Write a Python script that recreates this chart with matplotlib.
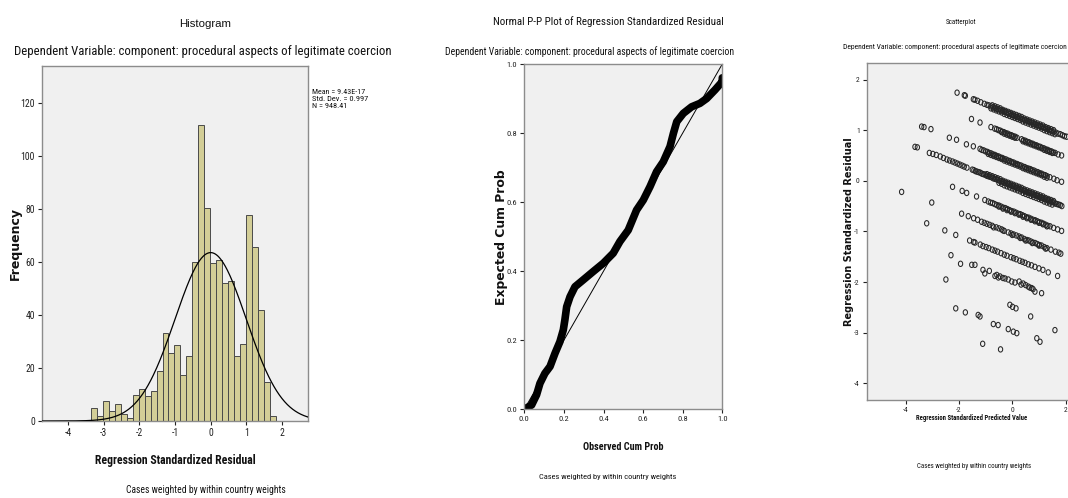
import os
import numpy as np
import matplotlib
matplotlib.use("Agg")
import matplotlib.pyplot as plt
from matplotlib import font_manager as fm
from matplotlib.font_manager import FontProperties
from matplotlib.path import Path
from matplotlib.transforms import Affine2D

# ---------------- data ----------------
hist_bin_start = -3.36
hist_bin_width = 0.1675
hist_counts = [5.0, 1.9, 7.7, 3.6, 6.3, 2.5, 1.1, 9.7, 12.1, 9.3, 11.3, 19.0, 33.2,
               25.8, 28.5, 17.2, 24.5, 59.9, 111.7, 80.3, 59.7, 60.9, 52.1, 52.8,
               24.5, 29.1, 77.9, 65.6, 41.8, 14.7, 2.0]
hist_mean = 9.43e-17
hist_sd = 0.997
hist_n = 948.41
hist_xticks = [-4, -3, -2, -1, 0, 1, 2]
hist_yticks = [0, 20, 40, 60, 80, 100, 120]

pp_observed = [0.0, 0.037, 0.062, 0.079, 0.104, 0.13, 0.155, 0.18, 0.197, 0.205, 0.214,
               0.231, 0.256, 0.298, 0.348, 0.399, 0.449, 0.483, 0.525, 0.567, 0.601,
               0.635, 0.668, 0.702, 0.736, 0.753, 0.77, 0.803, 0.845, 0.887, 0.921,
               0.963, 1.0, 1.0]
pp_expected = [0.0, 0.0125, 0.042, 0.075, 0.104, 0.124, 0.162, 0.196, 0.23, 0.259, 0.297,
               0.326, 0.355, 0.375, 0.399, 0.423, 0.452, 0.486, 0.519, 0.577, 0.606,
               0.645, 0.688, 0.717, 0.761, 0.799, 0.833, 0.857, 0.876, 0.886, 0.9,
               0.925, 0.949, 0.96]
pp_ticks = [0.0, 0.2, 0.4, 0.6, 0.8, 1.0]

# scatter: standardized predicted value (x) vs standardized residual (y), by band
band_a_x = [-2.07, -1.80, -1.76, -1.46, -1.40, -1.30, -1.18, -1.05, -0.95, -0.88, -0.80, -0.72,
            -0.65, -0.58, -0.50, -0.43, -0.36, -0.29, -0.22, -0.15, -0.08, -0.02, 0.05, 0.12,
            0.18, 0.25, 0.32, 0.38, 0.45, 0.52, 0.58, 0.65, 0.72, 0.78, 0.85, 0.92, 0.98,
            1.05, 1.12, 1.18, 1.25, 1.32, 1.40, 1.48, 1.56, 1.64, 1.72, 1.80, 1.88, 1.96, 2.04,
            -0.8, -0.7, -0.6, -0.5, -0.4, -0.3, -0.2, -0.1, 0.0, 0.1, 0.2, 0.3, 0.4, 0.5,
            0.6, 0.7, 0.8, 0.9, 1.0, 1.1, 1.2, 1.3, 1.4, 1.5, 1.6,
            -0.75, -0.65, -0.55, -0.45, -0.35, -0.25, -0.15, -0.05, 0.05, 0.15, 0.25, 0.35,
            0.45, 0.55, 0.65, 0.75, 0.85, 0.95, 1.05, 1.15, 1.25, 1.35, 1.45, 1.55]
band_a_y = [1.74, 1.69, 1.68, 1.61, 1.60, 1.58, 1.55, 1.52, 1.50, 1.49, 1.47, 1.45,
            1.44, 1.42, 1.41, 1.39, 1.38, 1.36, 1.35, 1.33, 1.32, 1.30, 1.29, 1.27,
            1.26, 1.25, 1.23, 1.22, 1.20, 1.19, 1.18, 1.16, 1.15, 1.13, 1.12, 1.10, 1.09,
            1.08, 1.06, 1.05, 1.03, 1.02, 1.00, 0.98, 0.97, 0.95, 0.93, 0.92, 0.90, 0.88, 0.87,
            1.43, 1.41, 1.39, 1.37, 1.35, 1.32, 1.30, 1.28, 1.26, 1.24, 1.22, 1.20, 1.17, 1.15,
            1.13, 1.11, 1.09, 1.07, 1.05, 1.03, 1.00, 0.98, 0.96, 0.94, 0.92,
            1.49, 1.47, 1.45, 1.43, 1.40, 1.38, 1.36, 1.34, 1.32, 1.30, 1.28, 1.26,
            1.23, 1.21, 1.19, 1.17, 1.15, 1.13, 1.11, 1.09, 1.06, 1.04, 1.02, 1.00]

band_b_x = [-1.53, -1.21, -0.80, -0.66, -0.59, -0.52, -0.45, -0.38, -0.31, -0.24, -0.17, -0.10,
            -0.03, 0.04, 0.11, 0.18, 0.35, 0.42, 0.49, 0.56, 0.63, 0.70, 0.77, 0.84, 0.91,
            0.98, 1.05, 1.12, 1.19, 1.26, 1.33, 1.40, 1.47, 1.54, 1.61, 1.72, 1.85,
            -0.4, -0.3, -0.2, -0.1, 0.0, 0.1, 0.4, 0.5, 0.6, 0.7, 0.8, 0.9, 1.0, 1.1, 1.2,
            1.3, 1.4, 1.5]
band_b_y = [1.22, 1.15, 1.06, 1.03, 1.02, 1.00, 0.99, 0.97, 0.96, 0.94, 0.93, 0.91,
            0.90, 0.88, 0.87, 0.85, 0.82, 0.80, 0.79, 0.77, 0.76, 0.74, 0.73, 0.71, 0.70,
            0.68, 0.67, 0.65, 0.64, 0.62, 0.61, 0.59, 0.58, 0.56, 0.55, 0.52, 0.50,
            0.96, 0.93, 0.91, 0.89, 0.87, 0.85, 0.78, 0.76, 0.74, 0.72, 0.70, 0.68, 0.66, 0.64, 0.61,
            0.59, 0.57, 0.55]

band_c_x = [-3.40, -3.31, -3.05, -2.36, -2.09, -1.72, -1.46, -1.21, -1.14, -1.07, -1.00, -0.93,
            -0.86, -0.79, -0.72, -0.65, -0.58, -0.51, -0.44, -0.37, -0.30, -0.23, -0.16,
            -0.09, -0.02, 0.05, 0.12, 0.19, 0.26, 0.33, 0.40, 0.47, 0.54, 0.61, 0.68, 0.75,
            0.82, 0.89, 0.96, 1.03, 1.10, 1.17, 1.24, 1.31, 1.41, 1.56, 1.68, 1.85,
            -0.9, -0.8, -0.7, -0.6, -0.5, -0.4, -0.3, -0.2, -0.1, 0.0, 0.1, 0.2, 0.3, 0.4,
            0.5, 0.6, 0.7, 0.8, 0.9, 1.0, 1.1, 1.2, 1.3]
band_c_y = [1.07, 1.06, 1.02, 0.85, 0.81, 0.72, 0.68, 0.63, 0.61, 0.60, 0.58, 0.57,
            0.55, 0.54, 0.52, 0.51, 0.49, 0.48, 0.46, 0.45, 0.43, 0.42, 0.40,
            0.39, 0.37, 0.36, 0.34, 0.33, 0.31, 0.30, 0.28, 0.27, 0.25, 0.24, 0.23, 0.21,
            0.20, 0.18, 0.17, 0.15, 0.14, 0.12, 0.11, 0.09, 0.07, 0.04, 0.01, -0.02,
            0.53, 0.51, 0.49, 0.47, 0.45, 0.43, 0.40, 0.38, 0.36, 0.34, 0.32, 0.30, 0.28, 0.25,
            0.23, 0.21, 0.19, 0.17, 0.15, 0.13, 0.11, 0.08, 0.06]

band_d_x = [-3.65, -3.56, -3.11, -2.98, -2.85, -2.70, -2.58, -2.45, -2.35, -2.24, -2.15, -2.06,
            -1.97, -1.88, -1.80, -1.70, -1.50, -1.44, -1.38, -1.32, -1.26, -1.20, -1.14,
            -1.08, -1.02, -0.96, -0.90, -0.84, -0.78, -0.72, -0.66, -0.60, -0.54, -0.48,
            -0.42, -0.36, -0.30, -0.24, -0.18, -0.12, -0.06, 0.00, 0.06, 0.12, 0.18, 0.24,
            0.30, 0.36, 0.42, 0.48, 0.54, 0.60, 0.66, 0.72, 0.78, 0.84, 0.90, 0.96, 1.02,
            1.08, 1.14, 1.20, 1.26, 1.32, 1.38, 1.44, 1.50, 1.56, 1.62, 1.68, 1.74, 1.80, 1.86,
            -0.5, -0.4, -0.3, -0.2, -0.1, 0.0, 0.1, 0.2, 0.3, 0.4, 0.5, 0.6, 0.7, 0.8, 0.9,
            1.0, 1.1, 1.2, 1.3, 1.4, 1.5,
            -0.95, -0.85, -0.75, -0.65, -0.55, -0.45, -0.35, -0.25, -0.15, -0.05, 0.05, 0.15,
            0.25, 0.35, 0.45, 0.55, 0.65, 0.75, 0.85, 0.95, 1.05, 1.15, 1.25, 1.35, 1.45, 1.55]
band_d_y = [0.67, 0.66, 0.55, 0.53, 0.51, 0.48, 0.45, 0.42, 0.40, 0.38, 0.36, 0.34,
            0.32, 0.30, 0.28, 0.26, 0.22, 0.21, 0.19, 0.18, 0.17, 0.16, 0.14,
            0.13, 0.12, 0.10, 0.09, 0.08, 0.07, 0.05, 0.04, 0.03, 0.02, 0.00,
            -0.01, -0.02, -0.04, -0.05, -0.06, -0.07, -0.09, -0.10, -0.11, -0.13, -0.14, -0.15,
            -0.16, -0.18, -0.19, -0.20, -0.22, -0.23, -0.24, -0.25, -0.27, -0.28, -0.29, -0.30, -0.32,
            -0.33, -0.34, -0.36, -0.37, -0.38, -0.39, -0.41, -0.42, -0.43, -0.45, -0.46, -0.47, -0.48, -0.50,
            -0.04, -0.06, -0.09, -0.11, -0.13, -0.15, -0.17, -0.19, -0.21, -0.24, -0.26, -0.28, -0.30,
            -0.32, -0.34, -0.36, -0.38, -0.41, -0.43, -0.45, -0.47,
            0.13, 0.11, 0.09, 0.07, 0.05, 0.03, 0.00, -0.02, -0.04, -0.06, -0.08, -0.10,
            -0.12, -0.14, -0.17, -0.19, -0.21, -0.23, -0.25, -0.27, -0.29, -0.31, -0.34, -0.36, -0.38, -0.40]

band_e_x = [-2.24, -1.88, -1.71, -1.34, -1.03, -0.90, -0.82, -0.74, -0.66, -0.58, -0.50, -0.42,
            -0.34, -0.26, -0.18, -0.10, -0.02, 0.06, 0.14, 0.22, 0.30, 0.38, 0.46, 0.54,
            0.62, 0.70, 0.78, 0.86, 0.94, 1.02, 1.10, 1.18, 1.26, 1.34, 1.42, 1.55, 1.70, 1.85,
            -0.5, -0.35, -0.2, -0.05, 0.1, 0.25, 0.4, 0.55, 0.7, 0.85, 1.0, 1.15, 1.3]
band_e_y = [-0.12, -0.20, -0.24, -0.31, -0.38, -0.41, -0.43, -0.44, -0.46, -0.48, -0.49, -0.51,
            -0.53, -0.54, -0.56, -0.58, -0.60, -0.61, -0.63, -0.65, -0.66, -0.68, -0.70, -0.72,
            -0.73, -0.75, -0.77, -0.78, -0.80, -0.82, -0.83, -0.85, -0.87, -0.89, -0.90, -0.93, -0.96, -0.99,
            -0.51, -0.55, -0.58, -0.61, -0.64, -0.67, -0.71, -0.74, -0.77, -0.80, -0.83, -0.86, -0.90]

band_f_x = [-4.15, -3.02, -1.90, -1.65, -1.45, -1.30, -1.15, -1.05, -0.95, -0.85, -0.75, -0.60,
            -0.50, -0.40, -0.30, -0.15, -0.05, 0.05, 0.15, 0.25, 0.35, 0.45, 0.55, 0.62,
            0.70, 0.78, 0.86, 0.94, 1.02, 1.10, 1.20, 1.30, 1.45, 1.62, 1.75, 1.82,
            -0.7, -0.35, 0.0, 0.3, 0.5, 0.75, 1.0, 1.25]
band_f_y = [-0.22, -0.43, -0.65, -0.70, -0.74, -0.77, -0.81, -0.83, -0.85, -0.87, -0.89, -0.92,
            -0.94, -0.96, -0.99, -1.02, -1.04, -1.06, -1.08, -1.10, -1.12, -1.15, -1.17, -1.18,
            -1.20, -1.22, -1.23, -1.25, -1.27, -1.28, -1.31, -1.33, -1.36, -1.40, -1.42, -1.44,
            -0.92, -0.98, -1.07, -1.13, -1.18, -1.23, -1.28, -1.34]

band_g_x = [-3.21, -2.53, -2.12, -1.60, -1.45, -1.40, -1.20, -1.10, -0.98, -0.88, -0.75, -0.65,
            -0.55, -0.42, -0.30, -0.20, -0.05, 0.05, 0.15, 0.28, 0.38, 0.48, 0.60, 0.72,
            0.85, 1.00, 1.15, 1.35, 1.70]
band_g_y = [-0.84, -0.98, -1.07, -1.18, -1.21, -1.22, -1.26, -1.29, -1.31, -1.33, -1.36, -1.38,
            -1.40, -1.43, -1.46, -1.48, -1.51, -1.53, -1.55, -1.58, -1.60, -1.62, -1.65, -1.67,
            -1.70, -1.73, -1.76, -1.81, -1.88]

band_h_x = [-2.30, -1.94, -1.52, -1.40, -1.10, -1.03, -0.86, -0.65, -0.58, -0.52, -0.46, -0.35,
            -0.27, -0.15, -0.02, 0.10, 0.26, 0.33, 0.41, 0.50, 0.60, 0.66, 0.73, 0.78, 0.85, 1.10]
band_h_y = [-1.47, -1.64, -1.66, -1.66, -1.76, -1.83, -1.78, -1.88, -1.86, -1.91, -1.89, -1.92,
            -1.93, -1.95, -1.99, -2.01, -1.99, -2.05, -2.03, -2.06, -2.09, -2.11, -2.12, -2.14, -2.19, -2.22]

band_i_x = [-2.49, -0.09, 0.01, 0.14, 0.69, 1.60]
band_i_y = [-1.95, -2.45, -2.49, -2.52, -2.68, -2.95]

band_j_x = [-2.12, -1.76, -1.28, -1.21, -0.71, -0.53, -0.15, 0.04, 0.17, 0.92, 1.04]
band_j_y = [-2.52, -2.60, -2.65, -2.68, -2.83, -2.85, -2.93, -2.98, -3.01, -3.11, -3.18]

band_k_x = [-1.11, -0.44]
band_k_y = [-3.22, -3.33]

sc_xticks = [-4, -2, 0, 2]
sc_yticks = [-4, -3, -2, -1, 0, 1, 2]

title_dep = "Dependent Variable: component: procedural aspects of legitimate coercion"
note_weights = "Cases weighted by within country weights"


# ---------------- fonts ----------------
def pick_narrow(bold):
    want = 700 if bold else 400
    best, best_score = None, None
    for f in fm.fontManager.ttflist:
        fn = os.path.basename(f.fname).lower()
        if f.style != "normal" or "italic" in fn or "oblique" in fn:
            continue
        narrow = ("narrow" in fn or "condensed" in fn or
                  f.stretch in ("condensed", "semi-condensed", "extra-condensed"))
        if not narrow:
            continue
        try:
            w = int(f.weight)
        except (TypeError, ValueError):
            w = 700 if "bold" in str(f.weight) else 400
        score = abs(w - want)
        if "semi" in fn or "extra" in fn or "ultra" in fn:
            score += 50
        if "liberation" in fn:
            score -= 30
        elif "roboto" in fn:
            score -= 20
        elif "dejavu" in fn:
            score -= 10
        if best_score is None or score < best_score:
            best, best_score = f.fname, score
    if best is None:
        return FontProperties(family=["Liberation Sans", "DejaVu Sans"],
                              weight="bold" if bold else "normal")
    return FontProperties(fname=best)


FP_N = pick_narrow(False)
FP_NB = pick_narrow(True)
FP_WB = FontProperties(family=["DejaVu Sans"], weight="bold")
FP_R = FontProperties(family=["Liberation Sans", "DejaVu Sans"])

# ---------------- styling ----------------
W, H = 1068, 498
BG = "#f0f0f0"
SPINE = "#8c8c8c"
BAR = "#d3ce97"

fig = plt.figure(figsize=(W / 100, H / 100), dpi=100)
fig.patch.set_facecolor("white")
renderer = fig.canvas.get_renderer()


def ax_rect(l, r, t, b):
    return [l / W, 1 - b / H, (r - l) / W, (b - t) / H]


def ftext(x, y, s, fp, target, rotation=0, ha="center", maxsize=None):
    t = fig.text(x / W, 1 - y / H, s, fontproperties=fp, fontsize=10, rotation=rotation,
                 ha=ha, va="center", color="#111111")
    bb = t.get_window_extent(renderer)
    cur = bb.height if rotation == 90 else bb.width
    size = 10 * target / cur
    if maxsize is not None:
        size = min(size, maxsize)
    t.set_fontsize(size)
    return t


def style_axes(ax, fs):
    ax.set_facecolor(BG)
    for sp in ax.spines.values():
        sp.set_color(SPINE)
        sp.set_linewidth(1.0)
    ax.tick_params(axis="both", which="both", direction="out", length=3, width=0.8,
                   color="#222222", labelsize=fs, pad=2, top=False, right=False,
                   labelcolor="#222222")
    for lab in ax.get_xticklabels() + ax.get_yticklabels():
        lab.set_fontproperties(FP_N)
        lab.set_fontsize(fs)


# ---------------- histogram ----------------
ax1 = fig.add_axes(ax_rect(42, 308, 66, 421))
edges = hist_bin_start + hist_bin_width * np.arange(len(hist_counts) + 1)
ax1.bar(edges[:-1], hist_counts, width=hist_bin_width, align="edge", color=BAR,
        edgecolor="#4a4a4a", linewidth=0.7, zorder=2)
ax1.set_xlim(-4.73, 2.73)
ax1.set_ylim(0, 134)
xs = np.linspace(-4.73, 2.73, 400)
curve = hist_n * hist_bin_width / (hist_sd * np.sqrt(2 * np.pi)) * np.exp(-0.5 * ((xs - hist_mean) / hist_sd) ** 2)
ax1.plot(xs, curve, color="black", linewidth=0.9, zorder=3)
ax1.set_xticks(hist_xticks)
ax1.set_yticks(hist_yticks)
ax1.set_xticklabels([str(v) for v in hist_xticks])
ax1.set_yticklabels([str(v) for v in hist_yticks])
style_axes(ax1, 7)

ftext(205, 24, "Histogram", FP_R, 52)
ftext(203, 51, title_dep, FP_N, 375)
ftext(15, 243, "Frequency", FP_WB, 73, rotation=90)
ftext(175, 460, "Regression Standardized Residual", FP_NB, 162)
ftext(206, 490, note_weights, FP_N, 158)
ftext(312, 92.5, "Mean = 9.43E-17", FP_N, 53, ha="left")
ftext(312, 99, "Std. Dev. = 0.997", FP_N, 56, ha="left")
ftext(312, 105.5, "N = 948.41", FP_N, 35, ha="left")

# ---------------- P-P plot ----------------
ax2 = fig.add_axes(ax_rect(524.3, 722.3, 64, 409.3))
ax2.plot([0, 1], [0, 1], color="black", linewidth=0.7, zorder=2)
ax2.plot(pp_observed, pp_expected, color="black", linewidth=5.5, solid_capstyle="round",
         solid_joinstyle="round", zorder=3)
ax2.set_xlim(0, 1)
ax2.set_ylim(0, 1)
ax2.set_xticks(pp_ticks)
ax2.set_yticks(pp_ticks)
ax2.set_xticklabels([f"{v:.1f}" for v in pp_ticks])
ax2.set_yticklabels([f"{v:.1f}" for v in pp_ticks])
style_axes(ax2, 6)
for sp in ax2.spines.values():
    sp.set_zorder(4)

ftext(608, 22, "Normal P-P Plot of Regression Standardized Residual", FP_N, 230)
ftext(590, 52, title_dep, FP_N, 288)
ftext(502, 237, "Expected Cum Prob", FP_WB, 137, rotation=90)
ftext(623, 447, "Observed Cum Prob", FP_NB, 81)
ftext(608, 477, note_weights, FP_N, 137)

# ---------------- scatterplot ----------------
sc_right_val = 2.4
px_per_unit = 26.65
sc_left_px = 866.7
sc_right_px = 1012.3 + sc_right_val * px_per_unit
ax3 = fig.add_axes(ax_rect(sc_left_px, sc_right_px, 63.3, 400))
ell = Path.unit_circle().transformed(Affine2D().scale(0.8, 1.0))
all_x = (band_a_x + band_b_x + band_c_x + band_d_x + band_e_x + band_f_x + band_g_x
         + band_h_x + band_i_x + band_j_x + band_k_x)
all_y = (band_a_y + band_b_y + band_c_y + band_d_y + band_e_y + band_f_y + band_g_y
         + band_h_y + band_i_y + band_j_y + band_k_y)
ax3.scatter(all_x, all_y, s=15, marker=ell, facecolors="none", edgecolors="#262626",
            linewidths=0.75, zorder=3)
ax3.set_xlim(-5.46, sc_right_val)
ax3.set_ylim(-4.33, 2.32)
ax3.set_xticks(sc_xticks)
ax3.set_yticks(sc_yticks)
ax3.set_xticklabels([str(v) for v in sc_xticks])
ax3.set_yticklabels([str(v) for v in sc_yticks])
style_axes(ax3, 5.5)

ftext(961, 23, "Scatterplot", FP_N, 30)
ftext(955, 47, title_dep, FP_N, 224)
ftext(849, 232, "Regression Standardized Residual", FP_WB, 215, rotation=90, maxsize=7)
ftext(972, 418, "Regression Standardized Predicted Value", FP_NB, 110)
ftext(974, 466, note_weights, FP_N, 112)

fig.savefig("out.png", dpi=100, facecolor="white")
